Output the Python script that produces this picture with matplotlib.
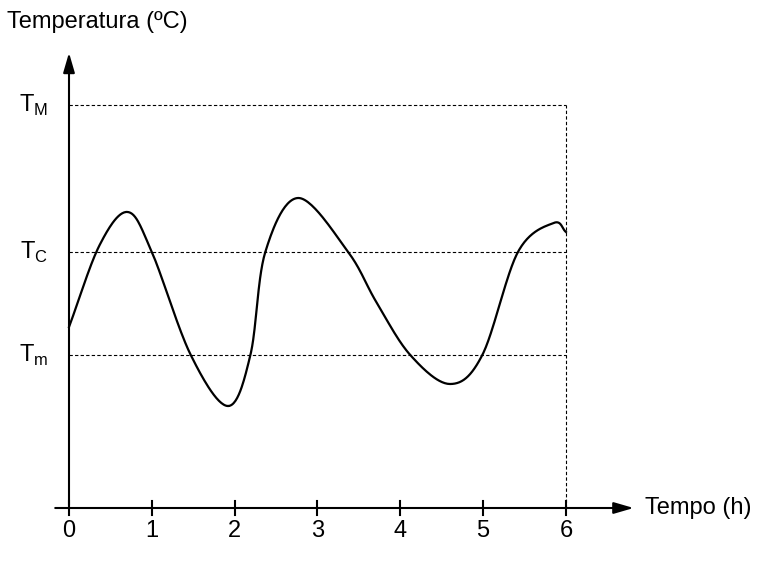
import numpy as np
import matplotlib
matplotlib.use("Agg")
import matplotlib.pyplot as plt

plt.rcParams['font.family'] = ['Liberation Sans', 'DejaVu Sans']
plt.rcParams['mathtext.fontset'] = 'custom'
plt.rcParams['mathtext.rm'] = 'Liberation Sans'

hours = [0, 0.37, 0.71, 1.0, 1.47, 1.92, 2.19, 2.37, 2.77, 3.37, 3.71, 4.12, 4.6, 4.99, 5.42, 5.85, 6.0]
temps = [181, 263, 296, 256, 153, 102, 153, 256, 310, 256, 206, 153, 124, 153, 256, 285, 276]
levels = {'T$_\\mathregular{M}$': 403, 'T$_\\mathregular{C}$': 256, 'T$_\\mathregular{m}$': 153}
xticks = [0, 1, 2, 3, 4, 5, 6]

def catmull(x, y, n=30):
    P = np.column_stack([x, y]).astype(float)
    P = np.vstack([2*P[0]-P[1], P, 2*P[-1]-P[-2]])
    out = []
    for i in range(1, len(P)-2):
        p0, p1, p2, p3 = P[i-1], P[i], P[i+1], P[i+2]
        t = np.linspace(0, 1, n)[:, None]
        out.append(0.5*((2*p1) + (-p0+p2)*t + (2*p0-5*p1+4*p2-p3)*t**2 + (-p0+3*p1-3*p2+p3)*t**3))
    return np.vstack(out)

fig = plt.figure(figsize=(7.67, 5.64), dpi=100)
ax = fig.add_axes([0, 0, 1, 1])
s = 82.83
ax.set_xlim(-69/s, (767-69)/s)
ax.set_ylim(-56, 508)
ax.axis('off')

c = catmull(hours, temps)
ax.plot(c[:, 0], c[:, 1], color='black', lw=1.6)

for lab, v in levels.items():
    ax.plot([0, 6], [v, v], ls=(0, (3, 2)), color='black', lw=0.8)
    ax.text(-0.25, v, lab, fontsize=17, ha='right', va='center')
ax.plot([6, 6], [0, levels['T$_\\mathregular{M}$']], ls=(0, (3, 2)), color='black', lw=0.8)

ax.annotate('', xy=(6.85, 0), xytext=(-0.2, 0),
            arrowprops=dict(arrowstyle='-|>,head_length=1.2,head_width=0.35', color='black', lw=1.5))
ax.annotate('', xy=(0, 458), xytext=(0, 0),
            arrowprops=dict(arrowstyle='-|>,head_length=1.2,head_width=0.35', color='black', lw=1.5))
for t in xticks:
    ax.plot([t, t], [-7, 7], color='black', lw=1.5)
    ax.text(t, -12, str(t), fontsize=17, ha='center', va='top')
ax.text(6.95, 0, 'Tempo (h)', fontsize=17, ha='left', va='center')
ax.text(-0.75, 475, 'Temperatura (ºC)', fontsize=17, ha='left', va='bottom')

fig.savefig('out.png', dpi=100)
